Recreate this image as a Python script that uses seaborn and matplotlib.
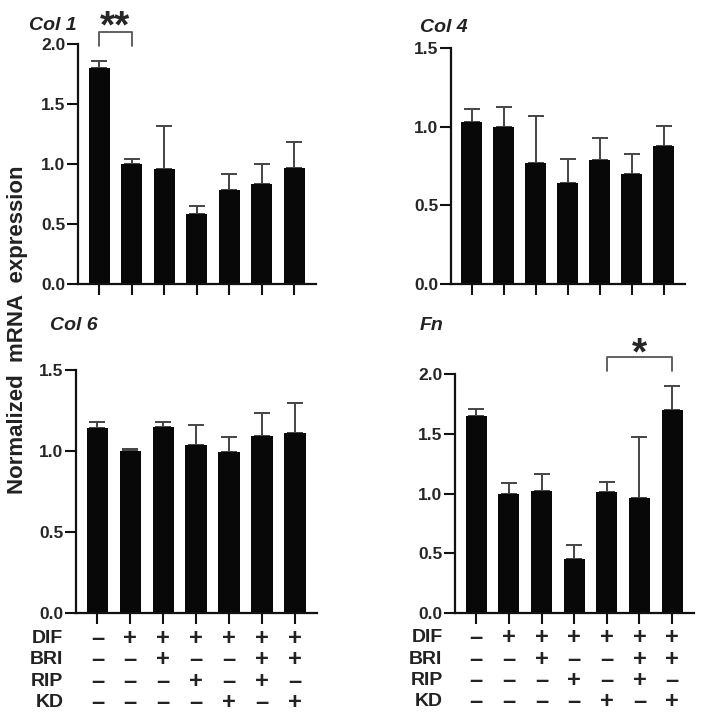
import matplotlib
matplotlib.use('Agg')
import matplotlib.pyplot as plt
import matplotlib.transforms as mtransforms
import numpy as np
import pandas as pd
import seaborn as sns

# data
groups = ['G1', 'G2', 'G3', 'G4', 'G5', 'G6', 'G7']
col1_mean = [1.80, 1.00, 0.96, 0.58, 0.78, 0.835, 0.97]
col1_top = [1.855, 1.045, 1.315, 0.65, 0.915, 1.00, 1.18]
col4_mean = [1.03, 1.00, 0.77, 0.645, 0.785, 0.70, 0.88]
col4_top = [1.11, 1.125, 1.07, 0.795, 0.93, 0.825, 1.005]
col6_mean = [1.14, 1.00, 1.15, 1.035, 0.995, 1.095, 1.11]
col6_top = [1.18, 1.015, 1.18, 1.158, 1.085, 1.237, 1.295]
fn_mean = [1.645, 1.00, 1.02, 0.455, 1.01, 0.965, 1.70]
fn_top = [1.705, 1.085, 1.162, 0.568, 1.10, 1.472, 1.90]

row_names = ['DIF', 'BRI', 'RIP', 'KD']
dif = ['–', '+', '+', '+', '+', '+', '+']
bri = ['–', '–', '+', '–', '–', '+', '+']
rip = ['–', '–', '–', '+', '–', '+', '–']
kd = ['–', '–', '–', '–', '+', '–', '+']

sns.set_style('ticks')
plt.rcParams['font.family'] = ['Liberation Sans', 'DejaVu Sans']
plt.rcParams['font.weight'] = 'bold'

W, H = 704, 718
fig = plt.figure(figsize=(W / 100, H / 100), dpi=100)


def px_axes(l, r, t, b):
    return fig.add_axes([l / W, 1 - b / H, (r - l) / W, (b - t) / H])


def panel(ax, mean, top, ymax, title, tx, ty):
    df = pd.DataFrame({'group': groups, 'value': mean})
    sns.barplot(data=df, x='group', y='value', color='#080808', width=0.65,
                saturation=1, errorbar=None, ax=ax, linewidth=0,
                edgecolor='#080808')
    for p in ax.patches:
        p.set_zorder(3)
    x = np.arange(len(groups))
    err = np.array(top) - np.array(mean)
    ax.errorbar(x, mean, yerr=[np.zeros(len(x)), err], fmt='none',
                ecolor='#444444', elinewidth=1.4, capsize=6, capthick=1.4, zorder=1)
    ax.set_xlim(-0.65, 6.67)
    ax.set_ylim(0, ymax)
    ticks = np.arange(0, ymax + 0.01, 0.5)
    ax.set_yticks(ticks)
    ax.set_yticklabels(['%.1f' % v for v in ticks], fontsize=12.5, fontweight='bold')
    ax.set_xticks(x)
    ax.set_xticklabels([])
    ax.set_xlabel('')
    ax.set_ylabel('')
    ax.tick_params(axis='both', length=8, width=1.5, pad=1, color='#111111')
    for s in ['left', 'bottom']:
        ax.spines[s].set_linewidth(1.6)
        ax.spines[s].set_color('#111111')
        ax.spines[s].set_zorder(4)
    sns.despine(ax=ax)
    fig.text(tx / W, 1 - ty / H, title, fontsize=14, fontweight='bold',
             fontstyle='italic', ha='left', va='center', color='#222222')


def bracket(ax, x1, x2, y_bar, y_leg, y_star, stars):
    ax.plot([x1, x1, x2, x2], [y_leg, y_bar, y_bar, y_leg], color='#555555',
            lw=1.3, clip_on=False)
    ax.text((x1 + x2) / 2, y_star, stars, ha='center', va='baseline',
            fontsize=28, fontweight='bold', clip_on=False)


def table(ax):
    trans = mtransforms.blended_transform_factory(ax.transData, ax.transAxes)
    ys = [-0.103, -0.193, -0.281, -0.37]
    for name, signs, y in zip(row_names, [dif, bri, rip, kd], ys):
        ax.text(-1.03, y, name, transform=trans, ha='right', va='center',
                fontsize=14, fontweight='bold', color='#222222')
        for i, s in enumerate(signs):
            ax.text(i, y, s, transform=trans, ha='center', va='center',
                    fontsize=17, fontweight='bold', color='#222222')


ax1 = px_axes(78, 316, 44, 284)
panel(ax1, col1_mean, col1_top, 2.0, 'Col 1', 29, 25)
bracket(ax1, 0, 1, 2.10, 1.98, 2.053, '**')

ax2 = px_axes(451, 685, 48, 284)
panel(ax2, col4_mean, col4_top, 1.5, 'Col 4', 420, 27)

ax3 = px_axes(76, 317, 370, 613)
panel(ax3, col6_mean, col6_top, 1.5, 'Col 6', 50, 325)
table(ax3)

ax4 = px_axes(455, 694, 374, 613)
panel(ax4, fn_mean, fn_top, 2.0, 'Fn', 420, 325)
bracket(ax4, 4, 6, 2.14, 2.025, 2.079, '*')
table(ax4)

fig.text(18 / W, 1 - 330 / H, 'Normalized  mRNA  expression', rotation=90,
         ha='center', va='center', fontsize=16, fontweight='bold', color='#222222')

fig.savefig('out.png', dpi=100)
